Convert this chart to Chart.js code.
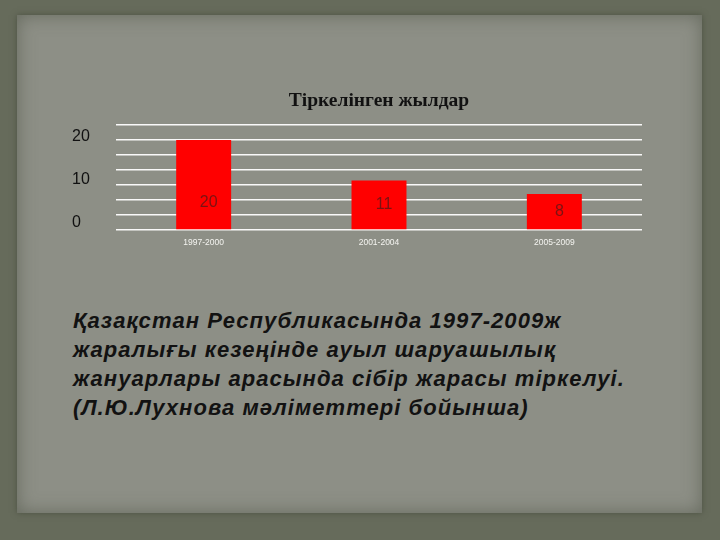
<!DOCTYPE html>
<html>
<head>
<meta charset="utf-8">
<script src="https://cdn.jsdelivr.net/npm/chart.js@4/dist/chart.umd.min.js"></script>
<style>
  html, body { margin: 0; padding: 0; }
  body {
    width: 720px; height: 540px; overflow: hidden; position: relative;
    background: #666b5b;
  }
  #panel {
    position: absolute; left: 17px; top: 15px; width: 685px; height: 498px;
    background: #8d8f86;
    box-shadow: inset 0 0 18px rgba(70, 75, 60, 0.55), 0 0 6px rgba(60, 65, 50, 0.6);
  }
  #chart { position: absolute; left: 0; top: 0; }
  #caption {
    position: absolute; left: 73px; top: 306px; margin: 0;
    font-family: "Liberation Sans", Arial, sans-serif;
    font-weight: bold; font-style: italic; font-size: 22px; line-height: 29px;
    letter-spacing: 1.05px;
    color: #121212;
  }
</style>
</head>
<body>
<div id="panel"></div>
<canvas id="chart" width="720" height="250"></canvas>
<p id="caption">Қазақстан Республикасында 1997-2009ж<br>жаралығы кезеңінде ауыл шаруашылық<br>жануарлары арасында сібір жарасы тіркелуі.<br>(Л.Ю.Лухнова мәліметтері бойынша)</p>
<script>
document.addEventListener("DOMContentLoaded", ()=>{

    const periods = ['1997-2000', '2001-2004', '2005-2009'];
    const cases = [20, 11, 8];
    const axisTicks = [0, 10, 20];

    // подписи значений внутри столбцов
    const valueLabels = {
        id: 'valueLabels',
        afterDatasetsDraw(chart) {
            const ctx = chart.ctx;
            const y = chart.scales.y;
            const meta = chart.getDatasetMeta(0);
            ctx.save();
            ctx.font = '16px "Liberation Sans", Arial, sans-serif';
            ctx.fillStyle = 'rgba(110, 20, 20, 0.9)';
            ctx.textAlign = 'center';
            ctx.textBaseline = 'middle';
            meta.data.forEach((bar, i) => {
                const mid = (bar.y + bar.base) / 2;
                const ty = Math.max(mid, y.getPixelForValue(6));
                ctx.fillText(String(cases[i]), bar.x + 5, ty);
            });
            ctx.restore();
        }
    };

    const canvas = document.getElementById("chart");

    new Chart(canvas, {
        type: 'bar',
        data: {
            labels: periods,
            datasets: [{
                data: cases,
                yAxisID: 'y',
                backgroundColor: '#ff0000',
                borderWidth: 0,
                categoryPercentage: 1,
                barPercentage: 0.3135
            }]
        },
        options: {
            responsive: false,
            animation: false,
            layout: { padding: { left: 72, right: 78, top: 0, bottom: 0 } },
            plugins: {
                legend: { display: false },
                tooltip: { enabled: false },
                title: {
                    display: true,
                    fullSize: false,
                    text: 'Тіркелінген жылдар',
                    color: '#111',
                    font: { family: '"Liberation Serif", serif', size: 19.5, weight: 'bold', lineHeight: 1.2 },
                    padding: { top: 89.3, bottom: 12.3 }
                }
            },
            scales: {
                yl: {
                    position: 'left',
                    min: -1.744,
                    max: 22.674,
                    grid: { display: false, drawTicks: false },
                    border: { display: false },
                    ticks: {
                        color: '#111',
                        font: { family: '"Liberation Sans", Arial, sans-serif', size: 16 },
                        crossAlign: 'far',
                        padding: 0
                    },
                    afterBuildTicks: s => { s.ticks = axisTicks.map(v => ({ value: v })); },
                    afterFit: s => { s.width = 44; }
                },
                y: {
                    position: 'left',
                    min: 0,
                    max: 70 / 3,
                    grid: { color: 'rgba(255,255,255,0.95)', lineWidth: 1.5, drawTicks: false },
                    border: { display: false },
                    ticks: { display: false },
                    afterBuildTicks: s => {
                        s.ticks = [0, 1, 2, 3, 4, 5, 6, 7].map(i => ({ value: i * 10 / 3 }));
                    },
                    afterFit: s => { s.width = 0; }
                },
                x: {
                    grid: { display: false, drawTicks: false },
                    border: { display: false },
                    ticks: {
                        color: '#f4f4f0',
                        font: { family: '"Liberation Sans", Arial, sans-serif', size: 8.5 },
                        padding: 8
                    },
                    afterFit: s => { s.height = 20; }
                }
            }
        },
        plugins: [valueLabels]
    });
})
</script>
</body>
</html>
